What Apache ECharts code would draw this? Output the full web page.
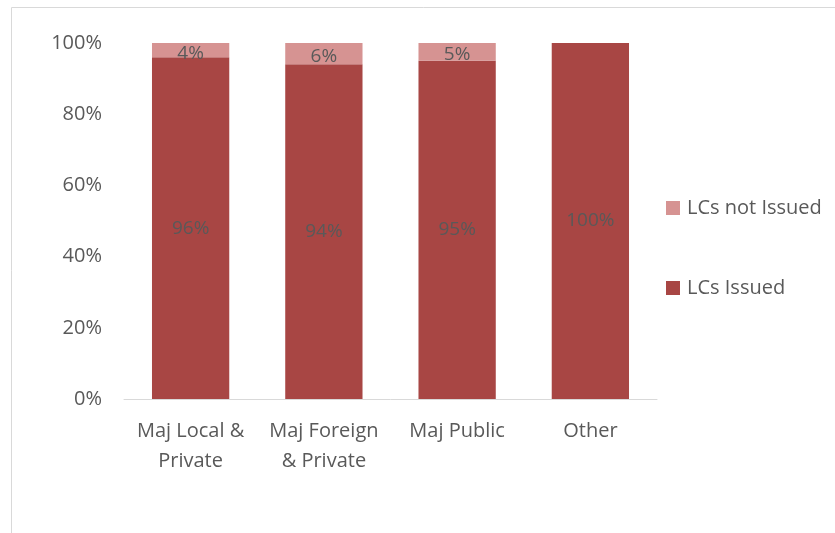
<!DOCTYPE html>
<html>
<head>
<meta charset="utf-8">
<script src="https://cdn.jsdelivr.net/npm/echarts@6/dist/echarts.min.js"></script>
<style>
  html, body { margin: 0; padding: 0; background: #fff; }
  #chart { width: 835px; height: 533px; }
</style>
</head>
<body>
<div id="chart"></div>
<script>
const categories = ["Maj Local &\nPrivate", "Maj Foreign\n& Private", "Maj Public", "Other"];
const lcsIssued = [96, 94, 95, 100];
const lcsNotIssued = [4, 6, 5, 0];
const yTicks = [0, 20, 40, 60, 80, 100];

const chart = echarts.init(document.getElementById("chart"));
const font = "Open Sans";
const textColor = "#595959";

const pctLabel = {
  show: true,
  position: "inside",
  color: textColor,
  fontFamily: font,
  fontSize: 19,
  formatter: (p) => (p.value ? p.value + "%" : ""),
};

chart.setOption({
  animation: false,
  graphic: [
    {
      type: "rect",
      shape: { x: 11.5, y: 7.5, width: 900, height: 600 },
      style: { fill: "none", stroke: "#D9D9D9", lineWidth: 1 },
      silent: true,
    },
  ],
  grid: { left: 124, right: 178, top: 43, bottom: 134 },
  legend: {
    orient: "vertical",
    left: 661,
    top: 193,
    itemGap: 60,
    itemWidth: 14,
    itemHeight: 14,
    icon: "rect",
    data: ["LCs not Issued", "LCs Issued"],
    textStyle: { color: textColor, fontFamily: font, fontSize: 20, padding: [0, 0, 0, 2] },
  },
  xAxis: {
    type: "category",
    data: categories,
    axisLine: { lineStyle: { color: "#D9D9D9", width: 1 } },
    axisTick: { show: false },
    axisLabel: {
      color: textColor,
      fontFamily: font,
      fontSize: 20,
      lineHeight: 30,
      margin: 17,
      interval: 0,
    },
  },
  yAxis: {
    type: "value",
    min: 0,
    max: 100,
    interval: 20,
    axisLine: { show: false },
    axisTick: { show: false },
    splitLine: { show: false },
    axisLabel: {
      color: textColor,
      fontFamily: font,
      fontSize: 20,
      margin: 22,
      formatter: (v) => (yTicks.includes(v) ? v + "%" : ""),
    },
  },
  series: [
    {
      name: "LCs Issued",
      type: "bar",
      stack: "total",
      barWidth: "58%",
      data: lcsIssued,
      itemStyle: { color: "#A84644" },
      label: pctLabel,
    },
    {
      name: "LCs not Issued",
      type: "bar",
      stack: "total",
      data: lcsNotIssued,
      itemStyle: { color: "#D69392" },
      label: Object.assign({}, pctLabel, { offset: [0, 3] }),
    },
  ],
});
</script>
</body>
</html>
